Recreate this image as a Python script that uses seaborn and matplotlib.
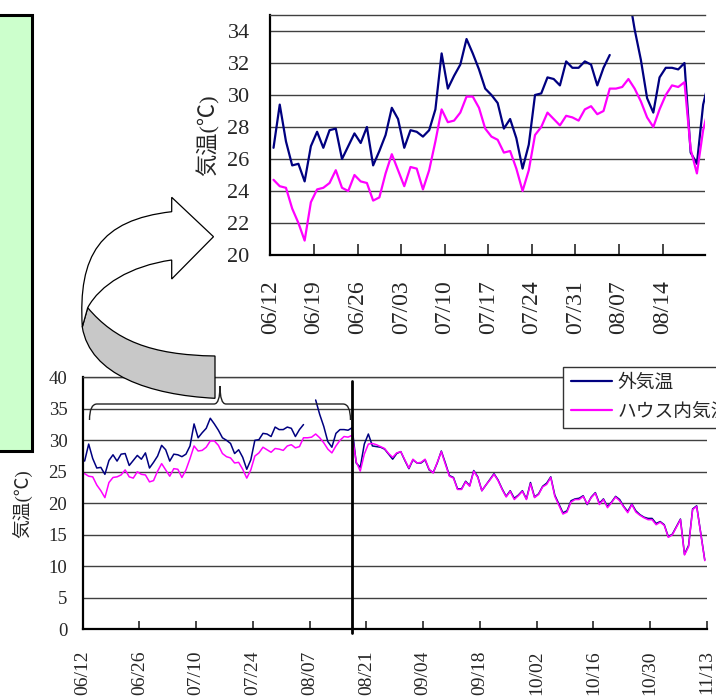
import numpy as np
import pandas as pd
import seaborn as sns
import matplotlib.pyplot as plt
import matplotlib.dates as mdates
from matplotlib.path import Path
from matplotlib.patches import PathPatch, Rectangle
from matplotlib.lines import Line2D

sns.set_style("white")
plt.rcParams['font.family'] = ['Liberation Serif', 'Noto Sans CJK JP']

# ---------------------------------------------------------------
# data: daily temperature from 06/12 (NaN = missing)
# ---------------------------------------------------------------
start = pd.Timestamp("2009-06-12")
series_names = ["外気温", "ハウス内気温"]
series_colors = ["#000080", "#ff00ff"]

soto = [26.7, 29.4, 27.1, 25.6, 25.7, 24.6, 26.8, 27.7, 26.7, 27.8,
        27.9, 26.0, 26.8, 27.6, 27.0, 28.0, 25.6, 26.5, 27.5, 29.2,
        28.5, 26.7, 27.8, 27.7, 27.4, 27.8, 29.1, 32.6, 30.4, 31.2,
        31.9, 33.5, 32.6, 31.6, 30.4, 30.0, 29.5, 27.9, 28.5, 27.3,
        25.4, 26.9, 30.0, 30.1, 31.1, 31.0, 30.6, 32.1, 31.7, 31.7,
        32.1, 31.9, 30.6, 31.7, 32.5, np.nan, np.nan, 36.4, 34.1, 32.2,
        29.8, 28.9, 31.1, 31.7, 31.7, 31.6, 32.0, 26.4, 25.7, 29.4,
        31.0, 29.1, 29.0, 28.9, 28.6, 27.8, 27.0, 27.9, 28.2, 26.8,
        25.5, 26.9, 26.4, 26.4, 26.9, 25.3, 24.9, 26.4, 28.3, 26.4,
        24.4, 24.1, 22.3, 22.3, 23.5, 22.8, 25.2, 24.2, 22.0, 22.9,
        23.8, 24.7, 23.7, 22.3, 21.1, 22.0, 20.8, 21.3, 22.0, 20.7,
        23.3, 21.0, 21.5, 22.7, 23.2, 24.2, 21.3, 19.9, 18.5, 18.8,
        20.4, 20.7, 20.8, 21.2, 19.8, 21.0, 21.7, 20.0, 20.7, 19.5,
        20.2, 21.1, 20.6, 19.5, 18.7, 19.9, 18.8, 18.2, 17.8, 17.6,
        17.6, 16.8, 17.1, 16.6, 14.7, 15.1, 16.3, 17.5, 11.9, 13.3,
        19.1, 19.6, 15.3, 11.0]

house = [24.7, 24.3, 24.2, 22.9, 22.0, 20.9, 23.3, 24.1, 24.2, 24.5,
         25.3, 24.2, 24.0, 25.0, 24.6, 24.5, 23.4, 23.6, 25.1, 26.3,
         25.3, 24.3, 25.5, 25.4, 24.1, 25.3, 27.1, 29.1, 28.3, 28.4,
         28.9, 29.9, 29.9, 29.2, 27.9, 27.4, 27.2, 26.4, 26.5, 25.4,
         24.0, 25.3, 27.5, 28.0, 28.9, 28.5, 28.1, 28.7, 28.6, 28.4,
         29.1, 29.3, 28.8, 29.0, 30.4, 30.4, 30.5, 31.0, 30.4, 29.6,
         28.6, 28.0, 29.1, 30.0, 30.6, 30.5, 30.8, 26.6, 25.1, 27.8,
         29.4, 29.5, 29.3, 29.0, 28.7, 27.9, 27.3, 28.0, 28.2, 26.9,
         25.6, 27.0, 26.4, 26.5, 27.0, 25.4, 24.8, 26.5, 28.2, 26.2,
         24.3, 24.0, 22.2, 22.2, 23.4, 22.7, 25.1, 24.1, 22.0, 22.9,
         23.7, 24.6, 23.6, 22.2, 21.0, 21.9, 20.6, 21.2, 21.9, 20.6,
         23.1, 20.9, 21.4, 22.6, 23.0, 24.1, 21.1, 19.7, 18.3, 18.6,
         20.2, 20.6, 20.6, 21.1, 19.9, 20.9, 21.6, 19.8, 20.6, 19.3,
         20.1, 21.0, 20.4, 19.4, 18.5, 19.8, 18.6, 18.1, 17.7, 17.4,
         17.4, 16.6, 17.0, 16.5, 14.6, 15.0, 16.2, 17.4, 11.8, 13.1,
         19.0, 19.5, 15.2, 10.9]

upper_ticks = pd.date_range(start, periods=10, freq="7D")
lower_ticks = pd.date_range(start, periods=12, freq="14D")
upper_yticks = list(range(20, 36, 2))
lower_yticks = list(range(0, 45, 5))

# データ整形（欠測で線を切るため seg を付ける）
dates = pd.date_range(start, periods=len(soto)) + pd.Timedelta(hours=12)
df = pd.DataFrame({"date": dates, series_names[0]: soto, series_names[1]: house})
long = df.melt("date", var_name="series", value_name="temp")
gap = long["temp"].isna().astype(int).groupby(long["series"]).cumsum()
long["seg"] = long["series"] + gap.astype(str)
long = long.dropna()
pal = dict(zip(series_names, series_colors))

# ---------------------------------------------------------------
# figure
# ---------------------------------------------------------------
fig = plt.figure(figsize=(7.16, 6.98), dpi=100)
W, H = 716, 698

def px_axes(l, t, r, b):
    return fig.add_axes([l / W, 1 - b / H, (r - l) / W, (b - t) / H])

ax_low = px_axes(82.6, 377.3, 706.8, 629.3)
ax_up = px_axes(270.4, 15, 705, 255)

grid_c = "#404040"
for ax, lw in [(ax_up, 1.6), (ax_low, 1.1)]:
    sns.lineplot(data=long, x="date", y="temp", hue="series", units="seg",
                 estimator=None, palette=pal, lw=lw, legend=False, ax=ax)
    ax.grid(axis="y", color=grid_c, lw=1.0)
    ax.grid(axis="x", visible=False)
    ax.set_xlabel("")
    ax.spines["right"].set_visible(False)
    ax.spines["top"].set_color(grid_c)
    ax.spines["top"].set_linewidth(1.0)
    for s in ["left", "bottom"]:
        ax.spines[s].set_color("black")
        ax.spines[s].set_linewidth(1.6)
    ax.xaxis.set_major_formatter(mdates.DateFormatter("%m/%d"))

# upper (zoom)
ax_up.set_xlim(start, start + pd.Timedelta(days=69.8))
ax_up.set_ylim(20, 35)
ax_up.set_yticks(upper_yticks)
ax_up.set_xticks(upper_ticks)
ax_up.tick_params(axis="x", direction="in", length=8, width=1.2, pad=18,
                  labelsize=17, labelrotation=90, bottom=True)
ax_up.tick_params(axis="y", length=0, pad=15, labelsize=16)
ax_up.set_ylabel("気温(℃)", fontsize=16)
ax_up.yaxis.set_label_coords(-0.1436, 0.5)
ax_up.yaxis.label.set_va("center")

# lower (whole period)
ax_low.set_xlim(start, start + pd.Timedelta(days=154))
ax_low.set_ylim(0, 40)
ax_low.set_yticks(lower_yticks)
ax_low.set_xticks(lower_ticks)
ax_low.tick_params(axis="x", direction="in", length=6, width=1.2, pad=15,
                   labelsize=14, labelrotation=90, bottom=True)
ax_low.tick_params(axis="y", length=0, pad=11, labelsize=13.5)
ax_low.set_ylabel("気温(℃)", fontsize=13.5)
ax_low.yaxis.set_label_coords(-0.0963, 0.5)
ax_low.yaxis.label.set_va("center")

# 区切り線
cut = start + pd.Timedelta(days=66.4)
ax_low.plot([cut, cut], [39.4, -0.6], color="black", lw=2, clip_on=False)

# legend
handles = [Line2D([], [], color=c, lw=1.6) for c in series_colors]
leg = fig.legend(handles, series_names, loc="upper left",
                 bbox_to_anchor=(563 / W, 1 - 367 / H), borderaxespad=0,
                 fontsize=13.5, handlelength=2.2, handletextpad=0.3,
                 borderpad=0.4, labelspacing=0.6, fancybox=False,
                 framealpha=1, edgecolor="#333333")
leg.get_frame().set_linewidth(1.0)

# ---------------------------------------------------------------
# decorations (pixel coordinates, y down)
# ---------------------------------------------------------------
ov = fig.add_axes([0, 0, 1, 1], zorder=3)
ov.set_xlim(0, W)
ov.set_ylim(H, 0)
ov.axis("off")

ov.add_patch(Rectangle((-5, 14.5), 36.5, 436.5, facecolor="#ccffcc",
                       edgecolor="black", lw=2.2))

M, L, C4, C3, CL = Path.MOVETO, Path.LINETO, Path.CURVE4, Path.CURVE3, Path.CLOSEPOLY

# gray underside of the curved arrow
gray_v = [(87.7, 307.7), (115, 340), (150, 355), (215, 356),
          (215, 398.3), (150, 395), (90, 375), (82.3, 327),
          (87.7, 307.7)]
gray_c = [M, C4, C4, C4, L, C4, C4, C4, CL]
ov.add_patch(PathPatch(Path(gray_v, gray_c), facecolor="#c8c8c8",
                       edgecolor="black", lw=0.9))

# white face with head
white_v = [(171.7, 211.7), (171.7, 197.3), (213.5, 236.7), (171.7, 279),
           (171.7, 260), (130, 266), (100, 285), (87.7, 307.7),
           (82.3, 327), (78, 255), (100, 220), (171.7, 211.7),
           (171.7, 211.7)]
white_c = [M, L, L, L, L, C4, C4, C4, L, C4, C4, C4, CL]
ov.add_patch(PathPatch(Path(white_v, white_c), facecolor="white",
                       edgecolor="black", lw=0.9))

# brace
brace_v = [(89.5, 420), (89.5, 404), (97, 404), (214, 404),
           (220, 404), (220, 386), (220, 404), (226, 404),
           (343, 404), (350.5, 404), (350.5, 420)]
brace_c = [M, C3, C3, L, C3, C3, C3, C3, L, C3, C3]
ov.add_patch(PathPatch(Path(brace_v, brace_c), facecolor="none",
                       edgecolor="#222222", lw=1.0))

fig.savefig("out.png", dpi=100)
